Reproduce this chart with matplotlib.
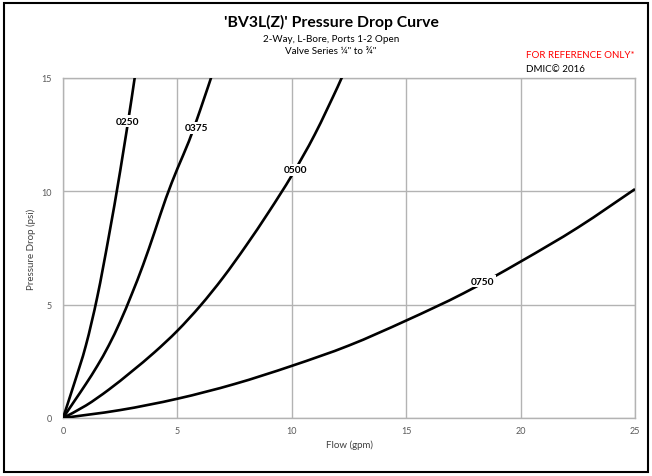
"""Pressure drop curves for the BV3L(Z) valve series, redrawn with matplotlib."""
import numpy as np
from matplotlib import pyplot as plt, rcParams
from matplotlib.patches import Rectangle, PathPatch
from matplotlib.path import Path

rcParams['font.family'] = ['Lato', 'DejaVu Sans']
rcParams['font.size'] = 7

# Values (flow in gpm, pressure drop in psi).
FLOW_0250 = [0, 0.5, 1, 1.5, 2, 2.5, 3, 3.2]
DROP_0250 = [0, 1.55, 3.2, 5.35, 8.0, 10.9, 14.1, 15.5]
FLOW_0375 = [0, 0.5, 1, 1.5, 2, 2.5, 3, 3.5, 4, 4.5, 5, 5.5, 6, 6.6]
DROP_0375 = [0, 0.75, 1.5, 2.3, 3.2, 4.25, 5.45, 6.75, 8.2, 9.7, 11.0, 12.2, 13.6, 15.4]
FLOW_0500 = [0, 1, 2, 3, 4, 5, 6, 7, 8, 9, 10, 11, 12, 12.3]
DROP_0500 = [0, 0.55, 1.25, 2.05, 2.9, 3.85, 4.95, 6.2, 7.6, 9.1, 10.7, 12.5, 14.6, 15.3]
FLOW_0750 = [0, 2.5, 5, 7.5, 10, 12.5, 15, 17.5, 20, 22.5, 25]
DROP_0750 = [0, 0.35, 0.85, 1.5, 2.3, 3.2, 4.3, 5.5, 6.9, 8.4, 10.1]

SERIES = [
    ("0250", FLOW_0250, DROP_0250, (2.84, 13.1)),
    ("0375", FLOW_0375, DROP_0375, (5.84, 12.8)),
    ("0500", FLOW_0500, DROP_0500, (10.14, 10.95)),
    ("0750", FLOW_0750, DROP_0750, (18.35, 6.03)),
]
X_TICKS = [0, 5, 10, 15, 20, 25]
Y_TICKS = [0, 5, 10, 15]

GRID_COLOR = '#b3b3b3'
TICK_COLOR = '#595959'


def smooth_path(xs, ys):
    """Bezier path through the points, like a spreadsheet 'smoothed line'."""
    pts = np.column_stack([xs, ys]).astype(float)
    verts = [pts[0]]
    codes = [Path.MOVETO]
    for i in range(len(pts) - 1):
        p0 = pts[i - 1] if i > 0 else pts[i]
        p1, p2 = pts[i], pts[i + 1]
        p3 = pts[i + 2] if i + 2 < len(pts) else pts[i + 1]
        verts += [p1 + (p2 - p0)/6, p2 - (p3 - p1)/6, p2]
        codes += [Path.CURVE4]*3
    return Path(verts, codes)


fig = plt.figure(figsize=(6.52, 4.77), dpi=100)
ax = fig.add_axes([63/652, 1 - 419/477, (635 - 63)/652, (419 - 79)/477])

for name, flow, drop, label_pos in SERIES:
    ax.add_patch(PathPatch(smooth_path(flow, drop), facecolor='none',
                           edgecolor='black', linewidth=1.9, zorder=3))
    ax.text(label_pos[0], label_pos[1], name, ha='center', va='center',
            fontsize=7.3, fontweight='bold', zorder=4,
            bbox=dict(facecolor='white', edgecolor='none', pad=1.0))

ax.set_xlim(0, 25)
ax.set_ylim(0, 15)
ax.set_xticks(X_TICKS)
ax.set_yticks(Y_TICKS)
ax.grid(True, color=GRID_COLOR, linewidth=1.0)
ax.set_axisbelow(True)
for spine in ax.spines.values():
    spine.set_color(GRID_COLOR)
    spine.set_linewidth(1.0)
ax.tick_params(length=0, colors=TICK_COLOR, labelsize=6.5, pad=8)
ax.tick_params(axis='x', pad=6)

ax.set_xlabel("Flow (gpm)", fontsize=7, color='#404040', labelpad=3)
ax.set_ylabel("Pressure Drop (psi)", fontsize=7, color='#404040', labelpad=4)

# Titles and notes.
fig.text(331/652, 1 - 22/477, "'BV3L(Z)' Pressure Drop Curve", ha='center',
         va='center', fontsize=11.3, fontweight='bold')
fig.text(331/652, 1 - 40/477, "2-Way, L-Bore, Ports 1-2 Open", ha='center',
         va='center', fontsize=7.1)
fig.text(331/652, 1 - 52/477, "Valve Series \u00bc\" to \u00be\"", ha='center',
         va='center', fontsize=7.1)
fig.text(526/652, 1 - 55/477, "FOR REFERENCE ONLY*", ha='left', va='center',
         fontsize=7, color='#ff0000')
fig.text(526/652, 1 - 69/477, "DMIC\u00a9 2016", ha='left', va='center',
         fontsize=7, color='black')

# Outer frame around the whole chart.
fig.patches.append(Rectangle((4/652, 4/477), 644/652, 469/477,
                             transform=fig.transFigure, fill=False,
                             edgecolor='black', linewidth=1.5))

fig.savefig("out.png", dpi=100)
